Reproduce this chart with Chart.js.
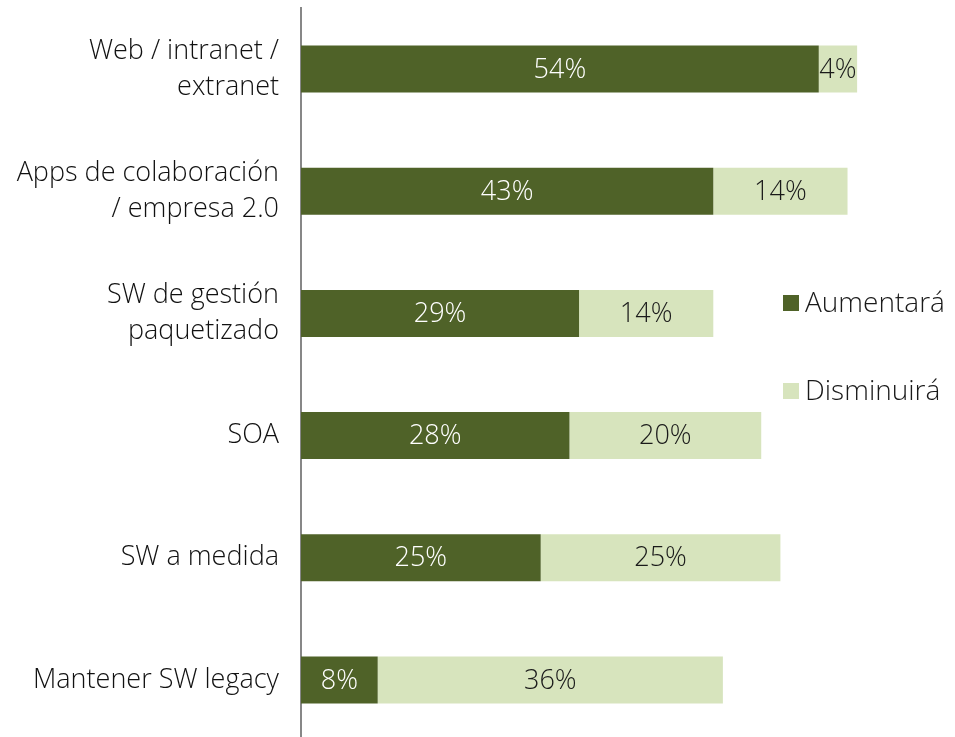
<!DOCTYPE html>
<html>
<head>
<meta charset="utf-8">
<script src="https://cdn.jsdelivr.net/npm/chart.js@4/dist/chart.umd.min.js"></script>
<style>
html,body{margin:0;padding:0;overflow:hidden;background:#fff;}
#wrap{position:relative;width:955px;height:741px;}
</style>
</head>
<body>
<div id="wrap"><canvas id="c"></canvas></div>
<script>
const categories = [
  ["Web / intranet /", "extranet"],
  ["Apps de colaboración", "/ empresa 2.0"],
  ["SW de gestión", "paquetizado"],
  "SOA",
  "SW a medida",
  "Mantener SW legacy"
];
const seriesNames = ["Aumentará", "Disminuirá"];
const aumentara = [54, 43, 29, 28, 25, 8];
const disminuira = [4, 14, 14, 20, 25, 36];
const colors = ["#4F6228", "#D7E4BD"];
const labelColors = ["#FFFFFF", "#1A1A1A"];

const FONT = "'Open Sans', sans-serif";

const valueLabels = {
  id: 'valueLabels',
  afterDatasetsDraw(chart) {
    const ctx = chart.ctx;
    ctx.save();
    ctx.font = "300 27px " + FONT;
    ctx.textAlign = 'center';
    ctx.textBaseline = 'middle';
    chart.data.datasets.forEach((ds, di) => {
      const meta = chart.getDatasetMeta(di);
      meta.data.forEach((bar, i) => {
        const x = (bar.x + bar.base) / 2;
        ctx.fillStyle = labelColors[di];
        ctx.fillText(ds.data[i] + '%', x, bar.y + 1);
      });
    });
    ctx.restore();
  }
};

const customLegend = {
  id: 'customLegend',
  afterDraw(chart) {
    const ctx = chart.ctx;
    ctx.save();
    ctx.font = "300 28px " + FONT;
    ctx.textBaseline = 'middle';
    const ys = [303, 391];
    seriesNames.forEach((n, i) => {
      ctx.fillStyle = colors[i];
      ctx.fillRect(783, ys[i] - 8, 16, 16);
      ctx.fillStyle = '#1A1A1A';
      ctx.textAlign = 'left';
      ctx.fillText(n, 805, ys[i] + 1);
    });
    ctx.restore();
  }
};

new Chart(document.getElementById('c'), {
  type: 'bar',
  data: {
    labels: categories,
    datasets: [
      { label: seriesNames[0], data: aumentara, backgroundColor: colors[0], barPercentage: 0.385, categoryPercentage: 1 },
      { label: seriesNames[1], data: disminuira, backgroundColor: colors[1], barPercentage: 0.385, categoryPercentage: 1 }
    ]
  },
  options: {
    indexAxis: 'y',
    responsive: true,
    maintainAspectRatio: false,
    animation: false,
    layout: { padding: { top: 8, right: 2, bottom: 0, left: 0 } },
    plugins: {
      legend: { display: false },
      tooltip: { enabled: false }
    },
    scales: {
      x: {
        stacked: true,
        min: 0,
        max: 68,
        display: false
      },
      y: {
        stacked: true,
        grid: { display: false, drawTicks: false },
        border: { display: true, color: '#878787', width: 2 },
        ticks: {
          color: '#111',
          padding: 22,
          font: { family: FONT, size: 27, weight: 300, lineHeight: 1.35 }
        },
        afterFit(scale) {
          scale.width = 301;
          scale.paddingTop = 0;
          scale.paddingBottom = 0;
        }
      }
    }
  },
  plugins: [valueLabels, customLegend]
});
</script>
</body>
</html>
